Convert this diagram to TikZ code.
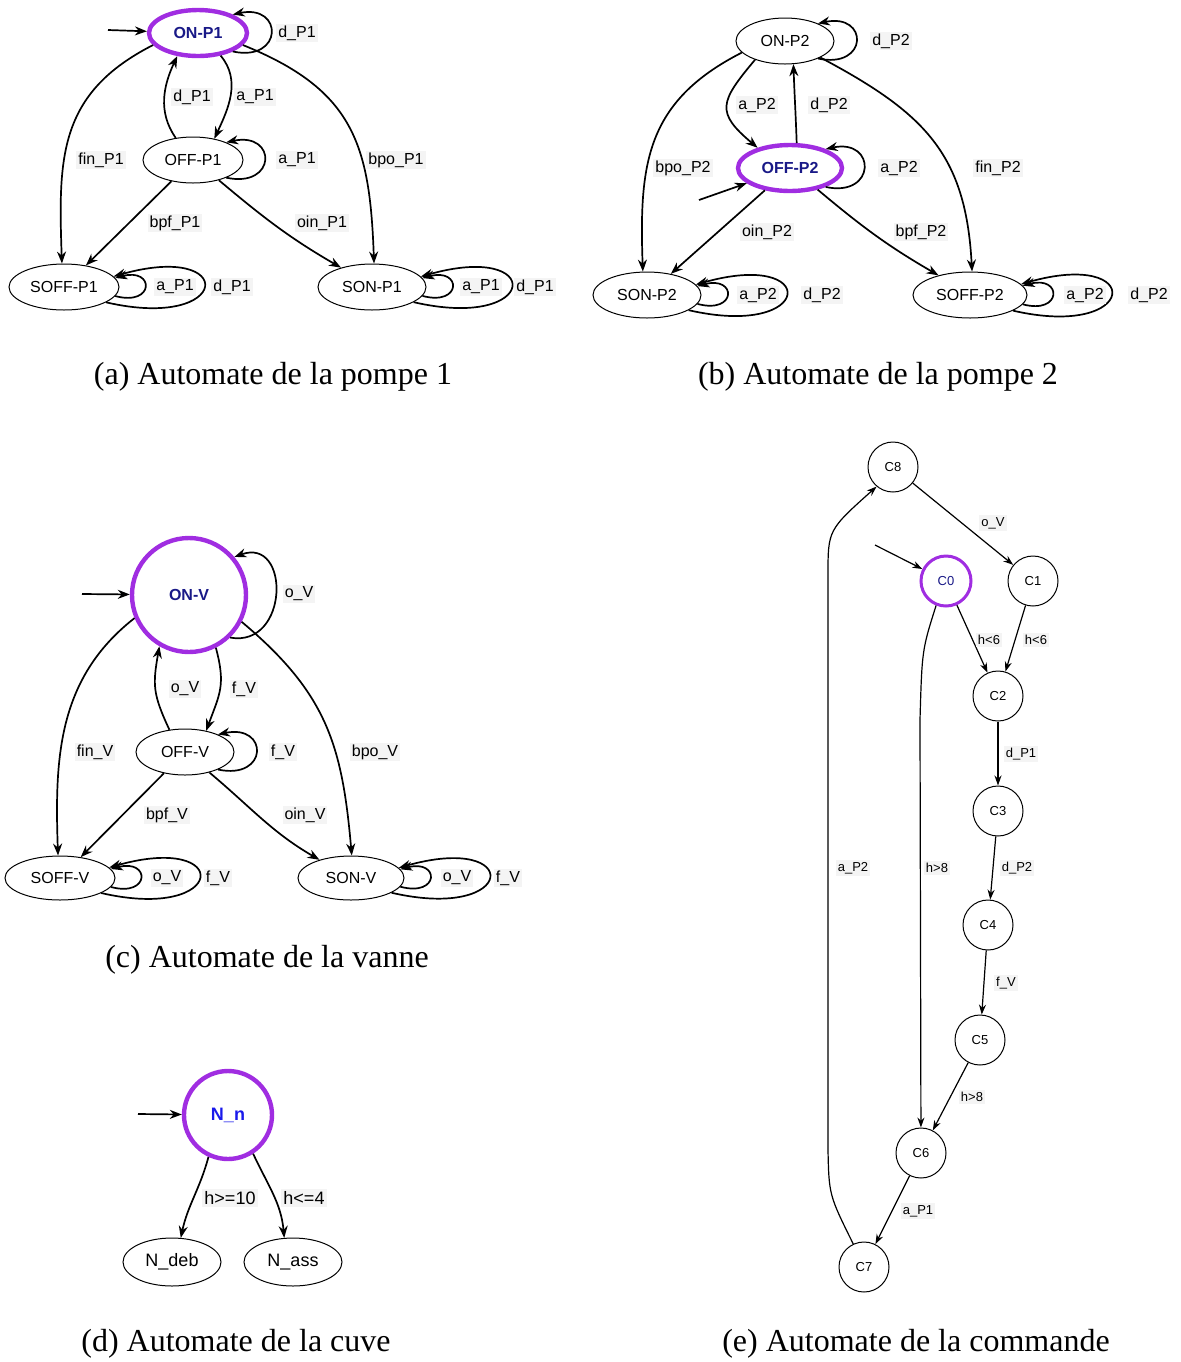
\documentclass[tikz,border=0pt]{standalone}
\usepackage{fontspec}
\setmainfont{Liberation Serif}
\setsansfont{Liberation Sans}
\usetikzlibrary{arrows.meta,shapes.geometric}

\definecolor{initborder}{RGB}{160,45,225}
\definecolor{initnavy}{RGB}{25,25,135}
\definecolor{initblue}{RGB}{25,25,235}
\definecolor{lblbg}{RGB}{244,244,244}

\tikzset{
    state/.style={draw, ellipse, line width=0.5pt, inner sep=0pt,
        minimum width=49pt, minimum height=23pt,
        font=\sffamily\fontsize{8}{9}\selectfont},
    cstate/.style={draw, circle, line width=0.5pt, inner sep=0pt,
        minimum size=25pt, font=\sffamily\fontsize{6.5}{7}\selectfont},
    startstate/.style={draw=initborder, line width=2.2pt, text=initnavy,
        font=\sffamily\bfseries\fontsize{8}{9}\selectfont},
    trans/.style={-{Stealth[length=6pt,width=4.5pt]}, line width=0.85pt},
    thintrans/.style={-{Stealth[length=5pt,width=3.5pt]}, line width=0.6pt},
    lbl/.style={fill=lblbg, inner sep=1pt,
        font=\sffamily\fontsize{8}{9}\selectfont},
    smalllbl/.style={lbl, font=\sffamily\fontsize{6.5}{7}\selectfont},
    caption/.style={font=\fontsize{16}{19}\selectfont},
    selfloop/.style={to path={.. controls +(-12:52) and +(12:52) .. (\tikztotarget)}},
    innerloop/.style={to path={.. controls +(-15:41) and +(15:41) .. (\tikztotarget)}},
    outerloop/.style={to path={.. controls +(-13:130) and +(16:130) .. (\tikztotarget)}},
}

\begin{document}
\begin{tikzpicture}[x=0.5pt, y=0.5pt]
    \useasboundingbox (0,0) rectangle (1180,-1362);

    % (a) pompe 1
    \node [state, startstate] (onp1) at (198,-33) {ON-P1};
    \node [state, minimum width=50pt] (offp1) at (193,-160) {OFF-P1};
    \node [state, minimum width=55pt] (soffp1) at (64,-287) {SOFF-P1};
    \node [state, minimum width=54pt] (sonp1) at (372,-287) {SON-P1};
    \coordinate (ip1) at (108,-30);

    \draw [trans] (ip1) -- (onp1);
    \draw [trans] (onp1.-28) to[selfloop] (onp1.28);
    \draw [trans] (onp1.-45) to[out=-50, in=65] (offp1.45);
    \draw [trans] (offp1.128) to[out=125, in=-115] (onp1.-132);
    \draw [trans] (onp1.195) to[out=207, in=92, looseness=1.15] (soffp1.95);
    \draw [trans] (onp1.-15) to[out=-22, in=92, looseness=1.2] (sonp1.85);
    \draw [trans] (offp1.-28) to[selfloop] (offp1.28);
    \draw [trans] (offp1) -- (soffp1);
    \draw [trans] (offp1.-38) to[out=-40, in=150] (sonp1.148);
    \draw [trans] (soffp1.-10) to[innerloop] (soffp1.10);
    \draw [trans] (soffp1.-20) to[outerloop] (soffp1.12);
    \draw [trans] (sonp1.-10) to[innerloop] (sonp1.10);
    \draw [trans] (sonp1.-20) to[outerloop] (sonp1.12);

    \node [lbl] (la1) at (297,-33) {d\_P1};
    \node [lbl] (la2) at (192,-97) {d\_P1};
    \node [lbl] (la3) at (255,-97) {a\_P1};
    \node [lbl] (la4) at (101,-160) {fin\_P1};
    \node [lbl] (la5) at (297,-160) {a\_P1};
    \node [lbl] (la6) at (396,-160) {bpo\_P1};
    \node [lbl] (la7) at (175,-223) {bpf\_P1};
    \node [lbl] (la8) at (322,-223) {oin\_P1};
    \node [lbl] (la9) at (175,-287) {a\_P1};
    \node [lbl] (la10) at (232,-287) {d\_P1};
    \node [lbl] (la11) at (481,-287) {a\_P1};
    \node [lbl] (la12) at (535,-287) {d\_P1};

    \node [caption] (capa) at (273,-377) {(a) Automate de la pompe 1};

    % (b) pompe 2
    \node [state] (onp2) at (785,-41) {ON-P2};
    \node [state, startstate, minimum width=52pt] (offp2) at (790,-168) {OFF-P2};
    \node [state, minimum width=54pt] (sonp2) at (647,-295) {SON-P2};
    \node [state, minimum width=57pt] (soffp2) at (970,-295) {SOFF-P2};
    \coordinate (ip2) at (699,-200);

    \draw [trans] (ip2) -- (offp2);
    \draw [trans] (onp2.-28) to[selfloop] (onp2.28);
    \draw [trans] (onp2.-148) to[out=-130, in=140, looseness=1.6] (offp2.148);
    \draw [trans] (offp2.75) to[out=92, in=-88] (onp2.-70);
    \draw [trans] (onp2.195) to[out=207, in=92, looseness=1.15] (sonp2.100);
    \draw [trans] (onp2.-25) to[out=-28, in=93, looseness=1.15] (soffp2.85);
    \draw [trans] (offp2.-28) to[selfloop] (offp2.28);
    \draw [trans] (offp2) -- (sonp2);
    \draw [trans] (offp2.-38) to[out=-40, in=150] (soffp2.148);
    \draw [trans] (sonp2.-10) to[innerloop] (sonp2.10);
    \draw [trans] (sonp2.-20) to[outerloop] (sonp2.12);
    \draw [trans] (soffp2.-10) to[innerloop] (soffp2.10);
    \draw [trans] (soffp2.-20) to[outerloop] (soffp2.12);

    \node [lbl] (lb1) at (891,-41) {d\_P2};
    \node [lbl] (lb2) at (757,-105) {a\_P2};
    \node [lbl] (lb3) at (829,-105) {d\_P2};
    \node [lbl] (lb4) at (683,-168) {bpo\_P2};
    \node [lbl] (lb5) at (899,-168) {a\_P2};
    \node [lbl] (lb6) at (998,-168) {fin\_P2};
    \node [lbl] (lb7) at (767,-232) {oin\_P2};
    \node [lbl] (lb8) at (921,-232) {bpf\_P2};
    \node [lbl] (lb9) at (758,-295) {a\_P2};
    \node [lbl] (lb10) at (822,-295) {d\_P2};
    \node [lbl] (lb11) at (1085,-295) {a\_P2};
    \node [lbl] (lb12) at (1149,-295) {d\_P2};

    \node [caption] (capb) at (878,-377) {(b) Automate de la pompe 2};

    % (c) vanne
    \node [draw, circle, inner sep=0pt, minimum size=57pt, startstate] (onv) at (189,-595) {ON-V};
    \node [state] (offv) at (185,-752) {OFF-V};
    \node [state, minimum width=55pt, minimum height=22pt] (soffv) at (60,-878) {SOFF-V};
    \node [state, minimum width=53pt, minimum height=22pt] (sonv) at (351,-878) {SON-V};
    \coordinate (iv) at (82,-594);

    \draw [trans] (iv) -- (onv);
    \draw [trans] (onv.-46) .. controls +(-10:60) and +(20:60) .. (onv.40);
    \draw [trans] (onv.-63) to[out=-75, in=70, looseness=1.2] (offv.45);
    \draw [trans] (offv.125) to[out=115, in=-100, looseness=1.2] (onv.-120);
    \draw [trans] (onv.203) to[out=218, in=92] (soffv.95);
    \draw [trans] (onv.-27) to[out=-40, in=95, looseness=1.1] (sonv.88);
    \draw [trans] (offv.-28) to[selfloop] (offv.28);
    \draw [trans] (offv) -- (soffv);
    \draw [trans] (offv.-40) to[out=-40, in=150] (sonv.150);
    \draw [trans] (soffv.-10) to[innerloop] (soffv.10);
    \draw [trans] (soffv.-20) to[outerloop] (soffv.12);
    \draw [trans] (sonv.-10) to[innerloop] (sonv.10);
    \draw [trans] (sonv.-20) to[outerloop] (sonv.12);

    \node [lbl] (lc1) at (299,-594) {o\_V};
    \node [lbl] (lc2) at (185,-689) {o\_V};
    \node [lbl] (lc3) at (244,-689) {f\_V};
    \node [lbl] (lc4) at (95,-752) {fin\_V};
    \node [lbl] (lc5) at (283,-752) {f\_V};
    \node [lbl] (lc6) at (375,-752) {bpo\_V};
    \node [lbl] (lc7) at (167,-815) {bpf\_V};
    \node [lbl] (lc8) at (305,-815) {oin\_V};
    \node [lbl] (lc9) at (167,-878) {o\_V};
    \node [lbl] (lc10) at (218,-878) {f\_V};
    \node [lbl] (lc11) at (457,-878) {o\_V};
    \node [lbl] (lc12) at (508,-878) {f\_V};

    \node [caption] (capc) at (267,-960) {(c) Automate de la vanne};

    % (d) cuve
    \node [draw, circle, inner sep=0pt, minimum size=44pt, startstate, text=initblue,
        font=\sffamily\bfseries\fontsize{9}{10}\selectfont] (nn) at (228,-1115) {N\_n};
    \node [state, minimum height=24pt, font=\sffamily\fontsize{9}{10}\selectfont] (ndeb) at (172,-1262) {N\_deb};
    \node [state, minimum height=24pt, font=\sffamily\fontsize{9}{10}\selectfont] (nass) at (293,-1262) {N\_ass};
    \coordinate (in) at (138,-1114);

    \draw [trans] (in) -- (nn);
    \draw [trans] (nn.-115) to[out=-105, in=78] (ndeb.70);
    \draw [trans] (nn.-57) to[out=-65, in=95] (nass.110);

    \node [lbl, font=\sffamily\fontsize{9}{10}\selectfont] (ld1) at (230,-1198) {h>=10};
    \node [lbl, font=\sffamily\fontsize{9}{10}\selectfont] (ld2) at (304,-1198) {h<=4};

    \node [caption] (capd) at (236,-1344) {(d) Automate de la cuve};

    % (e) commande
    \node [cstate] (c8) at (893,-467) {C8};
    \node [cstate, draw=initborder, line width=1.5pt, text=initnavy] (c0) at (946,-581) {C0};
    \node [cstate] (c1) at (1033,-581) {C1};
    \node [cstate] (c2) at (998,-696) {C2};
    \node [cstate] (c3) at (998,-811) {C3};
    \node [cstate] (c4) at (988,-925) {C4};
    \node [cstate] (c5) at (980,-1040) {C5};
    \node [cstate] (c6) at (921,-1153) {C6};
    \node [cstate] (c7) at (864,-1267) {C7};
    \coordinate (ic) at (875,-545);

    \draw [thintrans] (ic) -- (c0);
    \draw [thintrans] (c8) -- (c1);
    \draw [thintrans] (c0) -- (c2);
    \draw [thintrans] (c1) -- (c2);
    \draw [thintrans] (c2) -- (c3);
    \draw [thintrans] (c3) -- (c4);
    \draw [thintrans] (c4) -- (c5);
    \draw [thintrans] (c5) -- (c6);
    \draw [thintrans] (c6) -- (c7);
    \draw [thintrans] (c0.-112) .. controls (922,-650) .. (920,-720) -- (c6);
    \draw [thintrans] (c7.115) .. controls (829,-1195) .. (828,-1150)
        -- (828,-575) .. controls (828,-530) .. (c8.-130);

    \node [smalllbl] (le1) at (993,-523) {o\_V};
    \node [smalllbl] (le2) at (989,-640) {h<6};
    \node [smalllbl] (le3) at (1036,-640) {h<6};
    \node [smalllbl] (le4) at (1021,-754) {d\_P1};
    \node [smalllbl] (le5) at (1017,-868) {d\_P2};
    \node [smalllbl] (le6) at (1006,-983) {f\_V};
    \node [smalllbl] (le7) at (972,-1097) {h>8};
    \node [smalllbl] (le8) at (918,-1211) {a\_P1};
    \node [smalllbl] (le9) at (937,-868) {h>8};
    \node [smalllbl] (le10) at (853,-868) {a\_P2};

    \node [caption] (cape) at (916,-1344) {(e) Automate de la commande};
\end{tikzpicture}
\end{document}
